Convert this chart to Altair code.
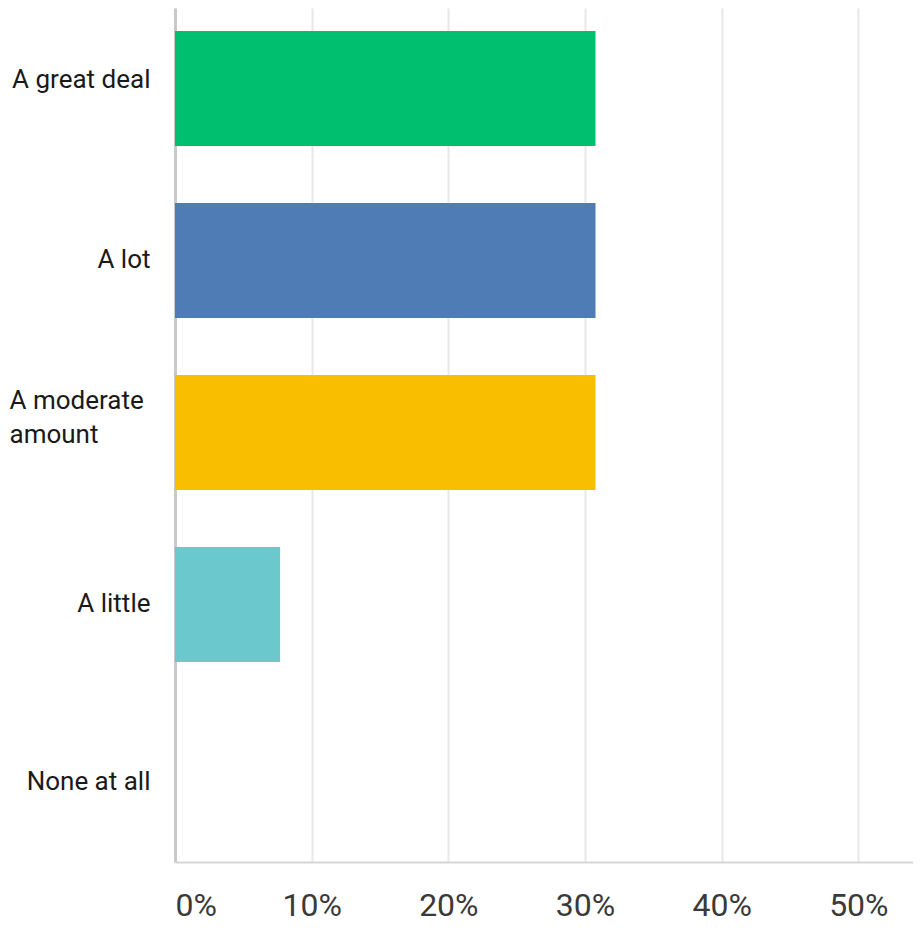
import altair as alt
import pandas as pd

categories = ["A great deal", "A lot", "A moderate amount", "A little", "None at all"]
shares = [0.3077, 0.3077, 0.3077, 0.0769, 0.0]
bar_colors = ["#00BF6F", "#507CB6", "#F9BE00", "#6BC8CD", "#A0C4E8"]
x_ticks = [0, 0.1, 0.2, 0.3, 0.4, 0.5]

df = pd.DataFrame({"category": categories, "share": shares})

is_mod = "datum.value == 'A moderate amount'"

chart = alt.Chart(df).mark_bar().encode(
    y=alt.Y(
        "category:N",
        sort=categories,
        scale=alt.Scale(paddingInner=0.331, paddingOuter=0.148, align=0.45),
        axis=alt.Axis(
            title=None,
            ticks=False,
            grid=False,
            domainColor="#c9c9c9",
            domainWidth=3,
            labelFont="Roboto",
            labelFontSize=26,
            labelColor="#1a1a1a",
            labelLimit=300,
            labelLineHeight=34,
            labelExpr="datum.value == 'A moderate amount' ? ['A moderate', 'amount'] : datum.value",
            labelAlign={"condition": {"test": is_mod, "value": "left"}, "value": "right"},
            labelPadding={"condition": {"test": is_mod, "value": 166}, "value": 25},
            labelOffset={
                "condition": [
                    {"test": is_mod, "value": -31},
                    {"test": "datum.value == 'A great deal'", "value": -8},
                    {"test": "datum.value == 'None at all'", "value": 6},
                ],
                "value": 0,
            },
        ),
    ),
    x=alt.X(
        "share:Q",
        scale=alt.Scale(domain=[0, 0.54], nice=False, zero=True),
        axis=alt.Axis(
            values=x_ticks,
            format=".0%",
            title=None,
            ticks=False,
            labelFont="Roboto",
            labelFontSize=32,
            labelColor="#3a3a3a",
            labelPadding=28,
            labelFlush=True,
            gridColor="#e8e8e8",
            gridWidth=2,
            domainColor="#d6d6d6",
            domainWidth=2,
        ),
    ),
    color=alt.Color(
        "category:N",
        scale=alt.Scale(domain=categories, range=bar_colors),
        legend=None,
    ),
).properties(
    width=738,
    height=854,
    autosize=alt.AutoSizeParams(type="none"),
    padding={"left": 167, "top": 0, "right": 0, "bottom": 64},
).configure_view(stroke=None)

chart.save("out.html", embed_options={"renderer": "svg", "actions": False})
